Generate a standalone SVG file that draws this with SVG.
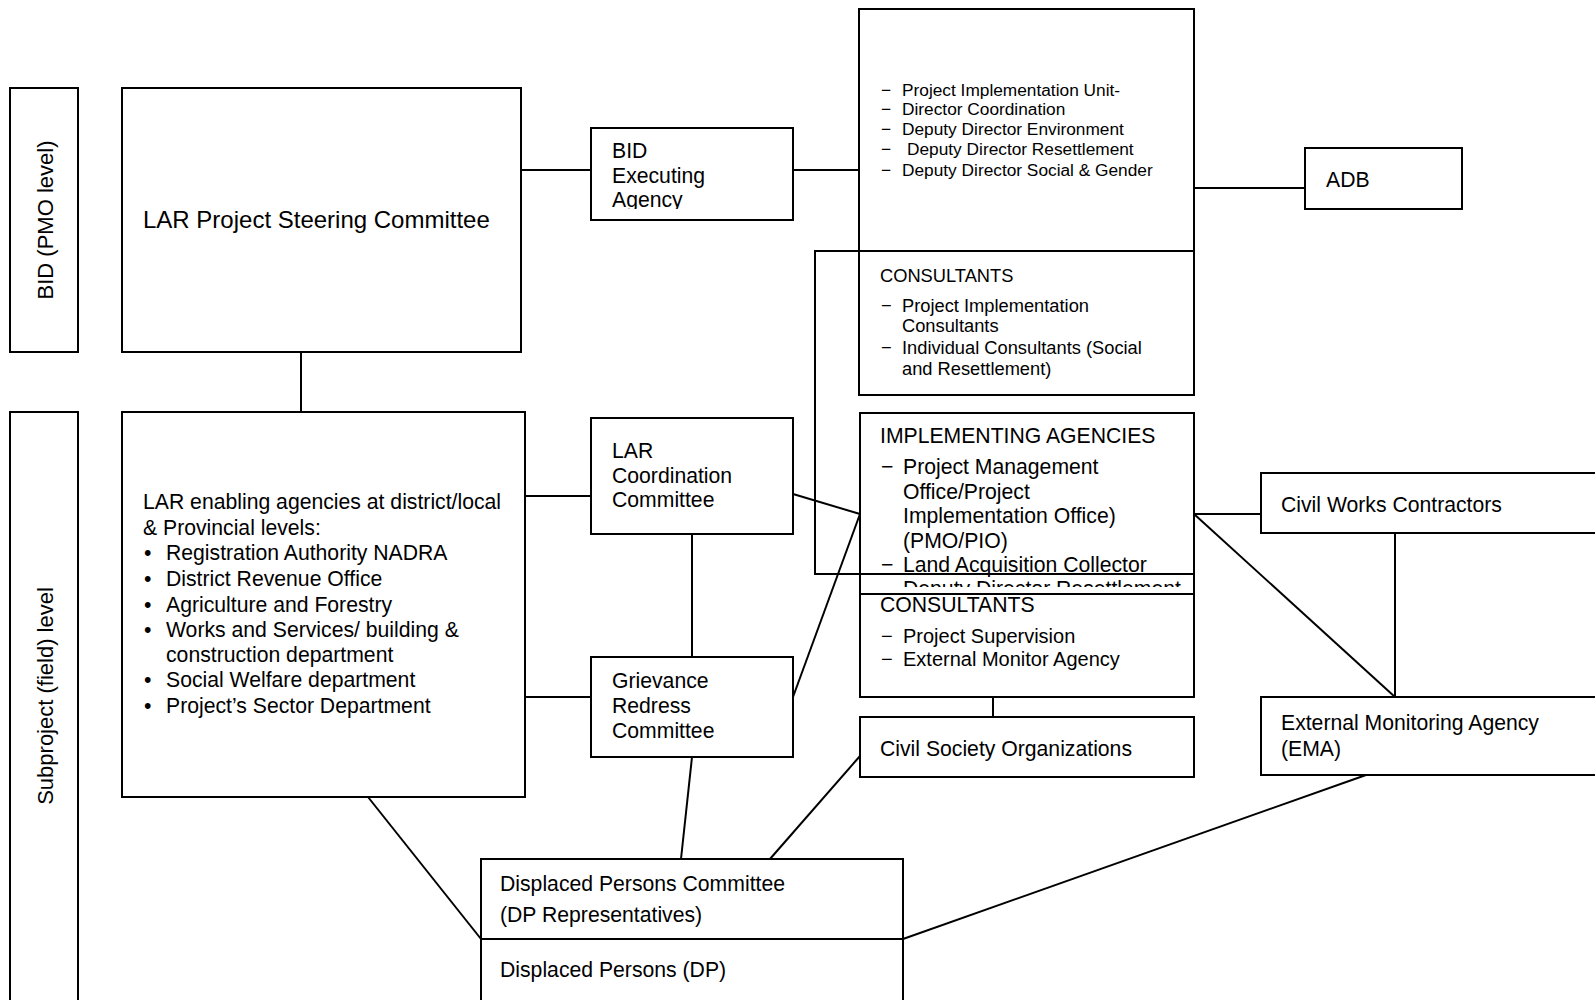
<svg xmlns="http://www.w3.org/2000/svg" width="1595" height="1000" viewBox="0 0 1595 1000">
<style>
  rect.box { fill: #ffffff; stroke: #000000; stroke-width: 2; }
  .conn path, .conn line { fill: none; stroke: #000000; stroke-width: 2; }
  text { font-family: "Liberation Sans", Arial, sans-serif; font-size: 21.2px; fill: #000000; }
  .s17 { font-size: 17.3px; }
  .s18 { font-size: 18.3px; }
  .s20 { font-size: 20px; }
  .s22 { font-size: 22px; }
  .s24 { font-size: 24px; }
</style>
<defs>
  <clipPath id="clipEA"><rect x="591" y="128" width="202" height="81"/></clipPath>
  <clipPath id="clipIA"><rect x="860" y="576" width="334" height="11"/></clipPath>
</defs>
<rect x="0" y="0" width="1595" height="1000" fill="#ffffff"/>

<g id="label-bid">
  <rect class="box" x="10" y="88" width="68" height="264"/>
  <text class="s22" text-anchor="middle" transform="translate(53,220) rotate(-90)">BID (PMO level)</text>
</g>
<g id="label-subproject">
  <rect class="box" x="10" y="412" width="68" height="600"/>
  <text class="s22" text-anchor="middle" transform="translate(53,696) rotate(-90)">Subproject (field) level</text>
</g>

<g id="connectors" class="conn">
  <path d="M521 170 H591"/>
  <path d="M793 170 H859"/>
  <path d="M1194 188 H1305"/>
  <path d="M301 352 V412"/>
  <path d="M525 496 H591"/>
  <path d="M525 697 H591"/>
  <path d="M692 534 V657"/>
  <path d="M793 494 L860 514"/>
  <path d="M793 697 L860 514"/>
  <path d="M993 697 V717"/>
  <path d="M1194 514 H1261"/>
  <path d="M1194 514 L1395 697"/>
  <path d="M1395 533 V697"/>
  <path d="M368 797 L481 939"/>
  <path d="M692 757 L681 859"/>
  <path d="M860 756 L770 859"/>
  <path d="M1366 775 L903 939"/>
</g>

<g id="steering">
  <rect class="box" x="122" y="88" width="399" height="264"/>
  <text class="s24" x="143" y="228">LAR Project Steering Committee</text>
</g>

<g id="enabling">
  <rect class="box" x="122" y="412" width="403" height="385"/>
  <text x="143" y="509">LAR enabling agencies at district/local</text>
  <text x="143" y="535">&amp; Provincial levels:</text>
  <text x="144" y="560">•</text><text x="166" y="560">Registration Authority NADRA</text>
  <text x="144" y="586">•</text><text x="166" y="586">District Revenue Office</text>
  <text x="144" y="612">•</text><text x="166" y="612">Agriculture and Forestry</text>
  <text x="144" y="637">•</text><text x="166" y="637">Works and Services/ building &amp;</text>
  <text x="166" y="662">construction department</text>
  <text x="144" y="687">•</text><text x="166" y="687">Social Welfare department</text>
  <text x="144" y="713">•</text><text x="166" y="713">Project’s Sector Department</text>
</g>

<g id="bid-ea">
  <rect class="box" x="591" y="128" width="202" height="92"/>
  <g clip-path="url(#clipEA)">
    <text x="612" y="158">BID</text>
    <text x="612" y="183">Executing</text>
    <text x="612" y="207">Agency</text>
  </g>
</g>

<g id="piu">
  <rect class="box" x="859" y="9" width="335" height="386"/>
  <line x1="859" y1="251" x2="1194" y2="251" stroke="#000" stroke-width="2"/>
  <text class="s17" x="881" y="96">−</text><text class="s17" x="902" y="96">Project Implementation Unit-</text>
  <text class="s17" x="881" y="115">−</text><text class="s17" x="902" y="115">Director Coordination</text>
  <text class="s17" x="881" y="135">−</text><text class="s17" x="902" y="135">Deputy Director Environment</text>
  <text class="s17" x="881" y="155">−</text><text class="s17" x="907" y="155">Deputy Director Resettlement</text>
  <text class="s17" x="881" y="176">−</text><text class="s17" x="902" y="176">Deputy Director Social &amp; Gender</text>
  <text class="s18" x="880" y="282">CONSULTANTS</text>
  <text class="s18" x="881" y="312">−</text><text class="s18" x="902" y="312">Project Implementation</text>
  <text class="s18" x="902" y="332">Consultants</text>
  <text class="s18" x="881" y="354">−</text><text class="s18" x="902" y="354">Individual Consultants (Social</text>
  <text class="s18" x="902" y="375">and Resettlement)</text>
</g>

<g id="adb">
  <rect class="box" x="1305" y="148" width="157" height="61"/>
  <text x="1326" y="187">ADB</text>
</g>

<g id="bracket" class="conn">
  <path d="M859 251 H815 V574 H860"/>
</g>

<g id="ia">
  <rect class="box" x="860" y="413" width="334" height="284"/>
  <line x1="860" y1="574" x2="1194" y2="574" stroke="#000" stroke-width="2"/>
  <line x1="860" y1="594" x2="1194" y2="594" stroke="#000" stroke-width="2"/>
  <text x="880" y="443">IMPLEMENTING AGENCIES</text>
  <text x="881" y="474">−</text><text x="903" y="474">Project Management</text>
  <text x="903" y="499">Office/Project</text>
  <text x="903" y="523">Implementation Office)</text>
  <text x="903" y="548">(PMO/PIO)</text>
  <text x="881" y="572">−</text><text x="903" y="572">Land Acquisition Collector</text>
  <g clip-path="url(#clipIA)">
    <text x="881" y="596">−</text><text x="903" y="596">Deputy Director Resettlement</text>
  </g>
  <text x="880" y="612">CONSULTANTS</text>
  <text class="s20" x="881" y="643">−</text><text class="s20" x="903" y="643">Project Supervision</text>
  <text class="s20" x="881" y="666">−</text><text class="s20" x="903" y="666">External Monitor Agency</text>
</g>

<g id="lcc">
  <rect class="box" x="591" y="418" width="202" height="116"/>
  <text x="612" y="458">LAR</text>
  <text x="612" y="483">Coordination</text>
  <text x="612" y="507">Committee</text>
</g>

<g id="grc">
  <rect class="box" x="591" y="657" width="202" height="100"/>
  <text x="612" y="688">Grievance</text>
  <text x="612" y="713">Redress</text>
  <text x="612" y="738">Committee</text>
</g>

<g id="cso">
  <rect class="box" x="860" y="717" width="334" height="60"/>
  <text x="880" y="756">Civil Society Organizations</text>
</g>

<g id="cwc">
  <rect class="box" x="1261" y="473" width="345" height="60"/>
  <text x="1281" y="512">Civil Works Contractors</text>
</g>

<g id="ema">
  <rect class="box" x="1261" y="697" width="345" height="78"/>
  <text x="1281" y="730">External Monitoring Agency</text>
  <text x="1281" y="756">(EMA)</text>
</g>

<g id="dpc">
  <rect class="box" x="481" y="859" width="422" height="80"/>
  <text x="500" y="891">Displaced Persons Committee</text>
  <text x="500" y="922">(DP Representatives)</text>
</g>

<g id="dp">
  <rect class="box" x="481" y="939" width="422" height="66"/>
  <text x="500" y="977">Displaced Persons (DP)</text>
</g>
</svg>
